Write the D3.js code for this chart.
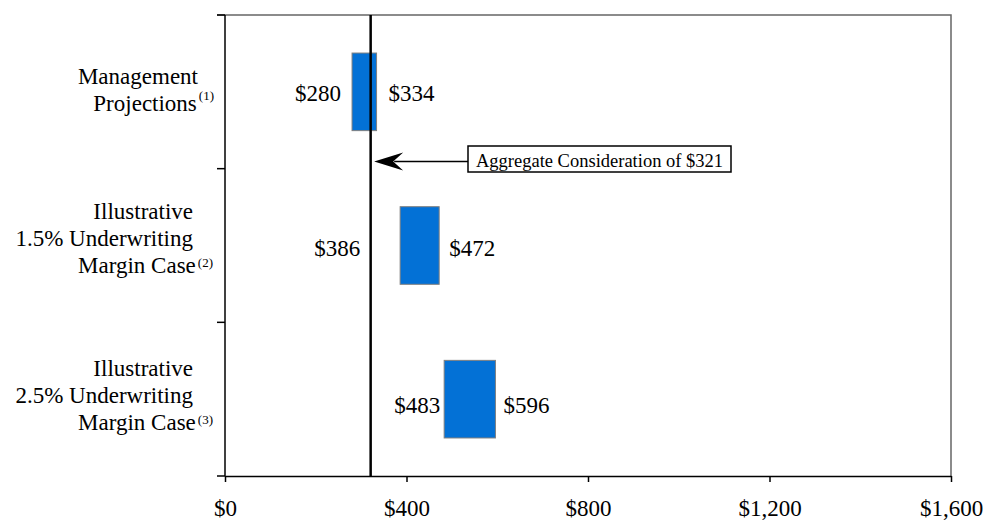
<!DOCTYPE html>
<html>
<head>
<meta charset="utf-8">
<script src="https://cdn.jsdelivr.net/npm/d3@7"></script>
<style>
  html, body { margin: 0; padding: 0; background: #fff; }
  svg { display: block; font-family: "Liberation Serif", "Times New Roman", serif; }
</style>
</head>
<body>
<svg id="chart" width="989" height="521"></svg>
<script>
// Valuation ranges (in $ millions) per case
const categories = ["Management Projections", "Illustrative 1.5% Underwriting Margin Case", "Illustrative 2.5% Underwriting Margin Case"];
const categoryLines = [["Management", "Projections"], ["Illustrative", "1.5% Underwriting", "Margin Case"], ["Illustrative", "2.5% Underwriting", "Margin Case"]];
const footnotes = ["(1)", "(2)", "(3)"];
const lowValues = [280, 386, 483];
const highValues = [334, 472, 596];
const xTicks = [0, 400, 800, 1200, 1600];
const considerationValue = 321;
const considerationText = "Aggregate Consideration of $321";

const svg = d3.select("#chart");
const plotLeft = 225, plotRight = 951, plotTop = 15, plotBottom = 476;

const x = d3.scaleLinear().domain([0, 1600]).range([plotLeft, plotRight]);
const y = d3.scaleBand().domain(categories).range([plotTop, plotBottom]).padding(0);
const barH = y.bandwidth() * 0.505;
const fmt = v => "$" + d3.format(",")(v);

// top and right frame
svg.append("path")
  .attr("d", `M${plotLeft - 8},${plotTop}H${plotRight}V${plotBottom}`)
  .attr("fill", "none").attr("stroke", "#666").attr("stroke-width", 1.5);

// left axis line with category-boundary ticks
const bounds = categories.map(c => y(c)).concat([plotBottom]);
svg.append("line").attr("x1", plotLeft).attr("x2", plotLeft).attr("y1", plotTop).attr("y2", plotBottom)
  .attr("stroke", "#000").attr("stroke-width", 1.5);
svg.selectAll("line.ytick").data(bounds).join("line").attr("class", "ytick")
  .attr("x1", plotLeft - 8).attr("x2", plotLeft).attr("y1", d => d).attr("y2", d => d)
  .attr("stroke", "#000").attr("stroke-width", 1.5);

// bottom axis
const xAxis = svg.append("g").attr("transform", `translate(0,${plotBottom})`)
  .call(d3.axisBottom(x).tickValues(xTicks).tickFormat(fmt).tickSizeInner(6).tickSizeOuter(0));
xAxis.select(".domain").attr("stroke", "#000").attr("stroke-width", 1.5);
xAxis.selectAll(".tick line").attr("stroke", "#000").attr("stroke-width", 1.5);
xAxis.selectAll(".tick text").attr("y", 40).attr("dy", 0)
  .attr("font-size", 23).attr("font-family", "Liberation Serif").attr("fill", "#000");

// range bars
svg.selectAll("rect.bar").data(categories).join("rect").attr("class", "bar")
  .attr("x", (c, i) => x(lowValues[i]))
  .attr("width", (c, i) => x(highValues[i]) - x(lowValues[i]))
  .attr("y", c => y(c) + y.bandwidth() / 2 - barH / 2)
  .attr("height", barH)
  .attr("fill", "#0371d6").attr("stroke", "#7f7f7f").attr("stroke-width", 1);

// aggregate consideration reference line
svg.append("line")
  .attr("x1", x(considerationValue)).attr("x2", x(considerationValue))
  .attr("y1", plotTop).attr("y2", plotBottom)
  .attr("stroke", "#000").attr("stroke-width", 2.5);

// value labels beside each bar
const lowOffsets = [-11, -40, -4];
const highOffsets = [12, 10, 8];
const labelShift = [1.5, 3, 6];
svg.selectAll("text.low").data(categories).join("text").attr("class", "low")
  .attr("x", (c, i) => x(lowValues[i]) + lowOffsets[i])
  .attr("y", (c, i) => y(c) + y.bandwidth() / 2 + labelShift[i])
  .attr("dy", "0.33em")
  .attr("text-anchor", "end").attr("font-size", 23)
  .text((c, i) => fmt(lowValues[i]));
svg.selectAll("text.high").data(categories).join("text").attr("class", "high")
  .attr("x", (c, i) => x(highValues[i]) + highOffsets[i])
  .attr("y", (c, i) => y(c) + y.bandwidth() / 2 + labelShift[i])
  .attr("dy", "0.33em")
  .attr("text-anchor", "start").attr("font-size", 23)
  .text((c, i) => fmt(highValues[i]));

// category labels (multi-line, with footnote marks)
const firstLineOffset = [-7.5, -26.5, -23];
const lineEnds = [[198, 214], [193, 193, 213], [193, 193, 213]];
const supRaise = [-11, -6, -6];
categories.forEach((c, i) => {
  const lines = categoryLines[i];
  lines.forEach((ln, j) => {
    const t = svg.append("text")
      .attr("x", lineEnds[i][j])
      .attr("y", y(c) + y.bandwidth() / 2 + firstLineOffset[i] + j * 27)
      .attr("text-anchor", "end").attr("font-size", 23);
    t.append("tspan").text(ln);
    if (j === lines.length - 1) {
      t.append("tspan").attr("font-size", 13).attr("dx", 2).attr("dy", supRaise[i]).text(footnotes[i]);
    }
  });
});

// callout box with arrow pointing at the reference line
const boxX = 468, boxY = 146, boxW = 263, boxH = 26;
const arrowY = 161.5, tipX = x(considerationValue) + 3.5;
svg.append("line").attr("x1", boxX).attr("x2", tipX + 20).attr("y1", arrowY).attr("y2", arrowY)
  .attr("stroke", "#000").attr("stroke-width", 1.5);
svg.append("path")
  .attr("d", `M${tipX},${arrowY} L${tipX + 29},${arrowY - 9} L${tipX + 19},${arrowY} L${tipX + 29},${arrowY + 9} Z`)
  .attr("fill", "#000");
svg.append("rect").attr("x", boxX).attr("y", boxY).attr("width", boxW).attr("height", boxH)
  .attr("fill", "#fff").attr("stroke", "#000").attr("stroke-width", 1.5);
svg.append("text").attr("x", boxX + boxW / 2).attr("y", boxY + 21)
  .attr("text-anchor", "middle").attr("font-size", 18.5)
  .text(considerationText);
</script>
</body>
</html>
